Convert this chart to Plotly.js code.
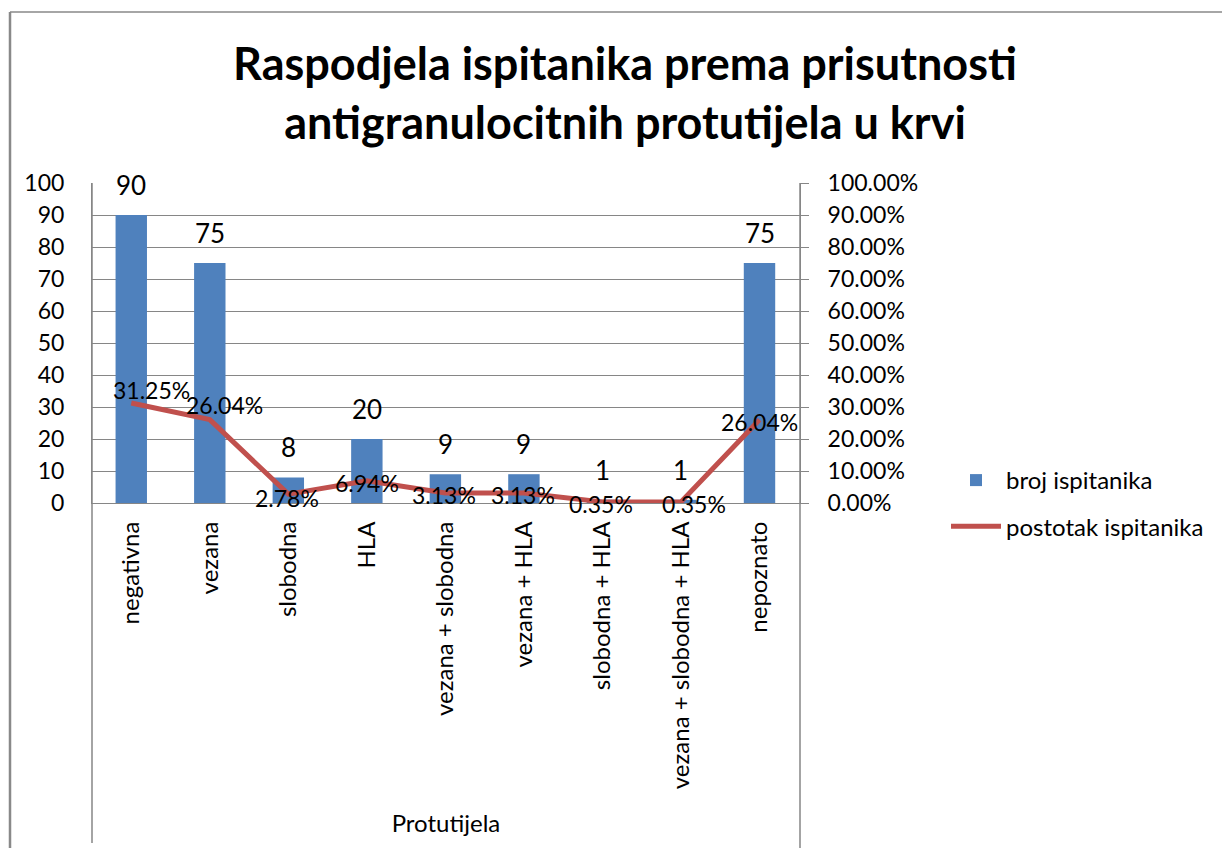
<!DOCTYPE html>
<html>
<head>
<meta charset="utf-8">
<script src="https://cdn.plot.ly/plotly-3.0.1.min.js"></script>
<style>html,body{margin:0;padding:0;background:#fff;}#chart{width:1222px;height:848px;}</style>
</head>
<body>
<div id="chart"></div>
<script>
const categories = ["negativna", "vezana", "slobodna", "HLA", "vezana + slobodna", "vezana + HLA", "slobodna + HLA", "vezana + slobodna + HLA", "nepoznato"];
const counts = [90, 75, 8, 20, 9, 9, 1, 1, 75];
const shares = [0.3125, 0.2604, 0.0278, 0.0694, 0.0313, 0.0313, 0.0035, 0.0035, 0.2604];
const leftTicks = [0, 10, 20, 30, 40, 50, 60, 70, 80, 90, 100];
const rightTicks = [0, 0.1, 0.2, 0.3, 0.4, 0.5, 0.6, 0.7, 0.8, 0.9, 1.0];

const FONT = "Lato, 'Open Sans', sans-serif";
const GRID = "#868686";

// label placement nudges (pixels) for the percentage labels
const pctShiftX = [20, 15, -1, 0, -1, -1, -1, 13, 0];
const pctShiftY = [13, 15, -4, -2, -2, -2, -2, -2, -2];

const traces = [
  {
    type: "bar", x: categories, y: counts, name: "broj ispitanika",
    marker: {color: "#4F81BD"}, legendgroup: "a", yaxis: "y"
  },
  {
    type: "scatter", mode: "lines", x: categories, y: shares, name: "postotak ispitanika",
    line: {color: "#C0504D", width: 5}, legendgroup: "b", yaxis: "y2"
  }
];

const annotations = [];
categories.forEach((c, i) => {
  annotations.push({
    x: c, y: counts[i], xref: "x", yref: "y", text: String(counts[i]),
    showarrow: false, yanchor: "middle", yshift: 30,
    font: {family: FONT, size: 26, color: "#000"}
  });
});
categories.forEach((c, i) => {
  annotations.push({
    x: c, y: shares[i], xref: "x", yref: "y2", text: (shares[i] * 100).toFixed(2) + "%",
    showarrow: false, yanchor: "middle", xshift: pctShiftX[i], yshift: pctShiftY[i],
    font: {family: FONT, size: 23, color: "#000"}
  });
});

const layout = {
  width: 1222, height: 848,
  margin: {l: 92, r: 422, t: 183, b: 345},
  paper_bgcolor: "#fff", plot_bgcolor: "#fff",
  font: {family: FONT, size: 23, color: "#000"},
  title: {
    text: "<b>Raspodjela ispitanika prema prisutnosti<br>antigranulocitnih protutijela u krvi</b>",
    x: 625 / 1222, xanchor: "center", xref: "container",
    y: 1 - 80 / 848, yanchor: "middle", yref: "container",
    font: {family: FONT, size: 45, color: "#000"}
  },
  bargap: 0.6,
  showlegend: true,
  legend: {
    x: 946 / 1222, xref: "container", xanchor: "left",
    y: 1 - 458 / 848, yref: "container", yanchor: "top",
    traceorder: "grouped", tracegroupgap: 12,
    font: {family: FONT, size: 24, color: "#000"},
    itemwidth: 50
  },
  xaxis: {
    type: "category", tickangle: -90, showgrid: false,
    showline: true, linecolor: GRID, linewidth: 1,
    ticks: "", ticklabelstandoff: 8,
    tickfont: {family: FONT, size: 24, color: "#000"},
    title: {text: "Protutijela", font: {family: FONT, size: 24, color: "#000"}, standoff: 26},
    fixedrange: true
  },
  yaxis: {
    range: [0, 100], tickvals: leftTicks, showgrid: true, gridcolor: GRID, gridwidth: 1,
    showline: true, linecolor: GRID, linewidth: 1, ticks: "", zeroline: false,
    ticklabelstandoff: 22,
    tickfont: {family: FONT, size: 23, color: "#000"}, fixedrange: true
  },
  yaxis2: {
    range: [0, 1], tickvals: rightTicks, tickformat: ".2%", overlaying: "y", side: "right",
    showgrid: false, showline: true, linecolor: GRID, linewidth: 1,
    ticks: "outside", ticklen: 8, tickcolor: GRID, zeroline: false,
    ticklabelstandoff: 14,
    tickfont: {family: FONT, size: 23, color: "#000"}, fixedrange: true
  },
  shapes: [
    {type: "line", xref: "paper", yref: "paper", x0: 0, x1: 0, y0: 1, y1: -340 / 320, line: {color: GRID, width: 1.5}},
    {type: "line", xref: "paper", yref: "paper", x0: 1, x1: 1, y0: 1, y1: -345 / 320, line: {color: GRID, width: 1.5}},
    {type: "line", xref: "paper", yref: "paper", x0: -82 / 708, x1: -82 / 708, y0: 491 / 320, y1: -345 / 320, line: {color: "#898989", width: 2.5}},
    {type: "line", xref: "paper", yref: "paper", x0: -82 / 708, x1: 1130 / 708, y0: 491 / 320, y1: 491 / 320, line: {color: "#898989", width: 1.5}}
  ],
  annotations: annotations
};

Plotly.newPlot("chart", traces, layout, {displayModeBar: false, staticPlot: true});
</script>
</body>
</html>
